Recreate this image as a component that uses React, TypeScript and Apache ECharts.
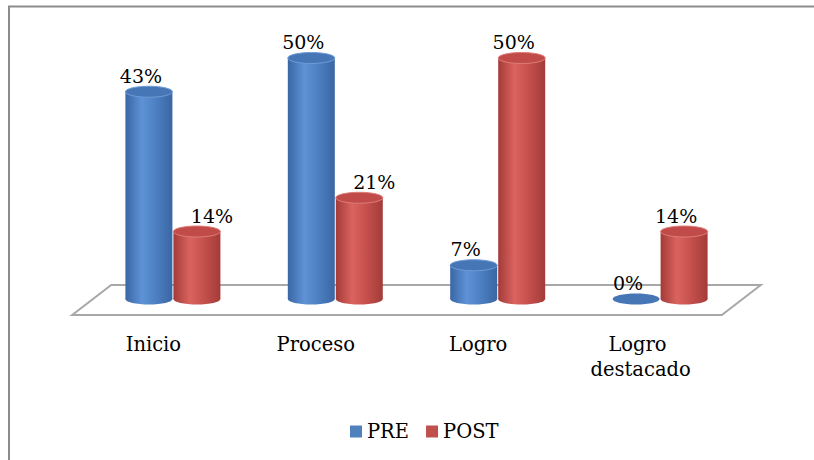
import React, { useEffect, useRef } from "react";
import * as echarts from "echarts";

// Chart data
const categories = ["Inicio", "Proceso", "Logro", "Logro destacado"];
const preValues = [43, 50, 7, 0];
const postValues = [14, 21, 50, 14];
const seriesNames = ["PRE", "POST"];

const FONT = "DejaVu Serif";

// 3D look: floor depth vector and cylinder geometry
const DEPTH_X = 39;
const DEPTH_Y = 30;
const FLOOR_FRONT = 16;
const RX = 23.5;
const RY = 5.5;
const BAR_SHIFT = 24;

const palettes = [
  { edge: "#3a66a4", light: "#5d92d6", mid: "#4f83c6", top: "#4676b6", rim: "#6e9cd8", base: "#4f81bd" },
  { edge: "#a33b38", light: "#da635f", mid: "#c9534f", top: "#c14b48", rim: "#de7d78", base: "#c0504d" },
];

function bodyGradient(p: (typeof palettes)[number]) {
  return new echarts.graphic.LinearGradient(0, 0, 1, 0, [
    { offset: 0, color: p.edge },
    { offset: 0.35, color: p.light },
    { offset: 0.6, color: p.mid },
    { offset: 1, color: p.edge },
  ]);
}

function cylinderRenderer(seriesIdx: number) {
  const p = palettes[seriesIdx];
  return (params: any, api: any) => {
    const cat = api.value(0);
    const val = api.value(1);
    const base = api.coord([cat, 0]);
    const top = api.coord([cat, val]);
    const cx = base[0] + DEPTH_X / 2 + (seriesIdx === 0 ? -BAR_SHIFT : BAR_SHIFT);
    const y0 = base[1];
    const y1 = top[1];

    // label sits left of the top face unless the neighbouring bar is taller
    let labelDx = -8;
    if (seriesIdx === 1 && preValues[cat] > postValues[cat]) labelDx = 15;

    const children: any[] = [];
    if (val > 0) {
      children.push(
        {
          type: "ellipse",
          shape: { cx, cy: y0, rx: RX, ry: RY },
          style: { fill: bodyGradient(p) },
        },
        {
          type: "rect",
          shape: { x: cx - RX, y: y1, width: RX * 2, height: y0 - y1 },
          style: { fill: bodyGradient(p) },
        },
        {
          type: "ellipse",
          shape: { cx, cy: y1, rx: RX, ry: RY },
          style: { fill: p.top, stroke: p.rim, lineWidth: 1 },
        }
      );
    } else {
      children.push({
        type: "ellipse",
        shape: { cx, cy: y0, rx: RX, ry: RY },
        style: { fill: p.top },
      });
    }
    children.push({
      type: "text",
      x: cx + labelDx,
      y: y1 - RY - 1,
      style: {
        text: `${val}%`,
        font: `19px ${FONT}`,
        fill: "#000",
        align: "center",
        verticalAlign: "bottom",
      },
    });
    return { type: "group", children };
  };
}

function floorRenderer(params: any) {
  const cs = params.coordSys;
  const fy = cs.y + cs.height + FLOOR_FRONT;
  const lx = cs.x;
  const rx = cs.x + cs.width;
  return {
    type: "polygon",
    shape: {
      points: [
        [lx, fy],
        [rx, fy],
        [rx + DEPTH_X, fy - DEPTH_Y],
        [lx + DEPTH_X, fy - DEPTH_Y],
      ],
    },
    style: { fill: "#ffffff", stroke: "#a8a8a8", lineWidth: 2 },
  };
}

export default function App() {
  const ref = useRef<HTMLDivElement>(null);

  useEffect(() => {
    if (!ref.current) return;
    const chart = echarts.init(ref.current, undefined, { renderer: "svg" });
    const option: any = {
      animation: false,
      backgroundColor: "#ffffff",
      textStyle: { fontFamily: FONT },
      graphic: [
        {
          type: "rect",
          silent: true,
          shape: { x: 9, y: 6.5, width: 830, height: 480 },
          style: { fill: "none", stroke: "#8c8c8c", lineWidth: 2 },
        },
      ],
      grid: { left: 72.2, right: 92.2, top: 58, bottom: 161 },
      xAxis: {
        type: "category",
        data: categories,
        axisLine: { show: false },
        axisTick: { show: false },
        splitLine: { show: false },
        axisLabel: {
          interval: 0,
          margin: 33,
          fontFamily: FONT,
          fontSize: 19.5,
          lineHeight: 25,
          color: "#000",
          width: 130,
          overflow: "break",
        },
      },
      yAxis: { type: "value", min: 0, max: 50, show: false },
      legend: {
        data: seriesNames,
        icon: "rect",
        itemWidth: 12,
        itemHeight: 12,
        itemGap: 17,
        left: 345,
        top: 414,
        textStyle: { fontFamily: FONT, fontSize: 19.5, lineHeight: 25, color: "#000" },
      },
      series: [
        {
          type: "custom",
          name: "floor",
          silent: true,
          z: 1,
          renderItem: floorRenderer,
          data: [[0, 0]],
        },
        {
          type: "custom",
          name: seriesNames[0],
          z: 2,
          itemStyle: { color: palettes[0].base },
          renderItem: cylinderRenderer(0),
          data: preValues.map((v, i) => [i, v]),
        },
        {
          type: "custom",
          name: seriesNames[1],
          z: 3,
          itemStyle: { color: palettes[1].base },
          renderItem: cylinderRenderer(1),
          data: postValues.map((v, i) => [i, v]),
        },
      ],
    };
    chart.setOption(option);
    return () => chart.dispose();
  }, []);

  return (
    <div
      ref={ref}
      style={{ position: "absolute", left: 0, top: 0, width: 814, height: 460 }}
    />
  );
}
